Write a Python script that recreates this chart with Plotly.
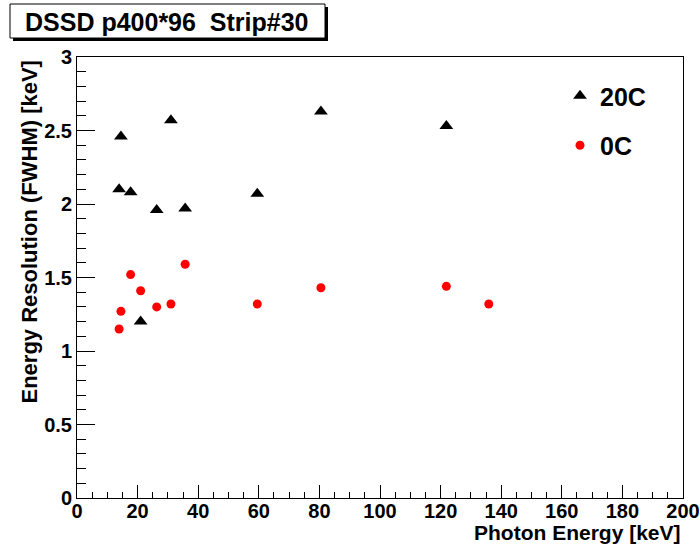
import plotly.graph_objects as go

# Data
energy_20c = [14.5, 13.9, 17.7, 26.3, 31.0, 35.7, 21.0, 59.5, 80.5, 121.9]
fwhm_20c = [2.46, 2.10, 2.08, 1.96, 2.57, 1.97, 1.20, 2.07, 2.63, 2.53]
energy_0c = [13.9, 14.5, 17.7, 21.0, 26.3, 31.0, 35.7, 59.5, 80.5, 121.9, 135.9]
fwhm_0c = [1.15, 1.27, 1.52, 1.41, 1.30, 1.32, 1.59, 1.32, 1.43, 1.44, 1.32]

title_text = "DSSD p400*96\u00a0\u00a0Strip#30"
x_title = "Photon Energy [keV]"
y_title = "Energy Resolution (FWHM) [keV]"

W, H = 700, 547
ML, MR, MT, MB = 77, 17, 57, 49
PW, PH = W - ML - MR, H - MT - MB

def px(xp):
    return (xp - ML) / PW

def py(yp):
    return (H - MB - yp) / PH

FONT = "Liberation Sans, Arial, Helvetica, sans-serif"

fig = go.Figure()
fig.add_trace(go.Scatter(
    x=energy_20c, y=fwhm_20c, mode="markers", name="20C",
    marker=dict(symbol="triangle-up", size=12, color="black"),
    legendgroup="a",
))
fig.add_trace(go.Scatter(
    x=energy_0c, y=fwhm_0c, mode="markers", name="0C",
    marker=dict(symbol="circle", size=9, color="#ff0000"),
    legendgroup="b",
))

fig.update_layout(
    width=W, height=H,
    margin=dict(l=ML, r=MR, t=MT, b=MB, pad=0),
    paper_bgcolor="white", plot_bgcolor="white",
    font=dict(family=FONT, color="black"),
    showlegend=True,
    legend=dict(
        x=px(560), y=py(73), xanchor="left", yanchor="top",
        bgcolor="rgba(0,0,0,0)", borderwidth=0,
        font=dict(family=FONT, size=25, weight="bold", color="black"),
        tracegroupgap=14, itemsizing="trace",
    ),
    xaxis=dict(
        range=[0, 200], dtick=20, tick0=0, automargin=False,
        ticks="inside", ticklen=13, tickwidth=1, tickcolor="black",
        minor=dict(dtick=5, ticks="inside", ticklen=6, tickwidth=1, tickcolor="black"),
        showline=True, linecolor="black", linewidth=1, mirror=True,
        showgrid=False, zeroline=False, ticklabelstandoff=-5,
        tickfont=dict(family=FONT, size=20, weight="bold"),
    ),
    yaxis=dict(
        range=[0, 3], dtick=0.5, tick0=0, automargin=False,
        ticks="inside", ticklen=18, tickwidth=1, tickcolor="black",
        minor=dict(dtick=0.1, ticks="inside", ticklen=9, tickwidth=1, tickcolor="black"),
        showline=True, linecolor="black", linewidth=1, mirror=True,
        showgrid=False, zeroline=False,
        tickfont=dict(family=FONT, size=20, weight="bold"),
    ),
)

# Axis titles as annotations (ROOT style, right/top aligned)
fig.add_annotation(
    text=x_title, xref="paper", yref="paper", x=1.0, y=py(532),
    xanchor="right", yanchor="middle", showarrow=False,
    font=dict(family=FONT, size=21, weight="bold"),
)
fig.add_annotation(
    text=y_title, xref="paper", yref="paper", x=px(29), y=py(59),
    xanchor="center", yanchor="top", textangle=-90, showarrow=False,
    font=dict(family=FONT, size=22, weight="bold"),
)

# Title box with shadow
fig.add_shape(type="rect", xref="paper", yref="paper",
              x0=px(13), x1=px(328), y0=py(41), y1=py(7),
              fillcolor="black", line=dict(width=0), layer="above")
fig.add_shape(type="rect", xref="paper", yref="paper",
              x0=px(10), x1=px(325), y0=py(38), y1=py(4),
              fillcolor="white", line=dict(color="black", width=1), layer="above")
fig.add_annotation(
    text=title_text, xref="paper", yref="paper", x=px(166), y=py(22),
    xanchor="center", yanchor="middle", showarrow=False,
    font=dict(family=FONT, size=25, weight="bold"),
)

fig.write_html("out.html")
